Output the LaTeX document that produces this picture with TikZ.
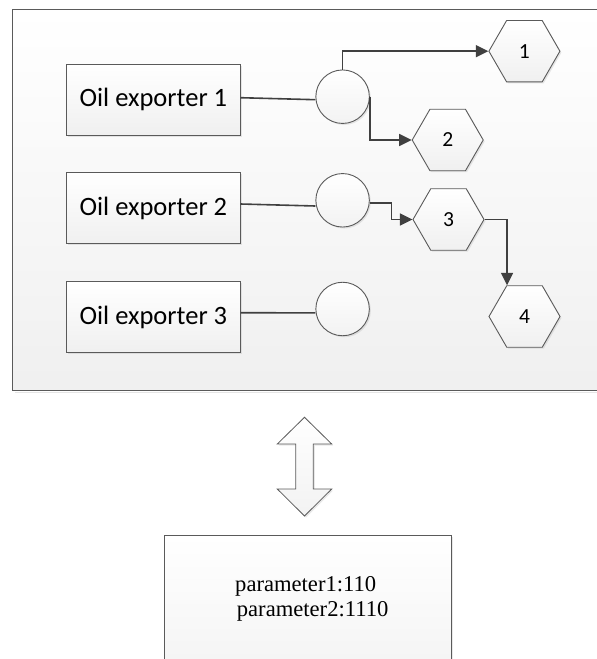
\documentclass[tikz,border=0pt]{standalone}
\usepackage{fontspec}
\setmainfont{Carlito}
\newfontfamily\serifp{Liberation Serif}
\usetikzlibrary{shapes.geometric,arrows.meta,shadows,calc}
\definecolor{edge}{HTML}{5A5A5A}
\definecolor{conn}{HTML}{404040}
\tikzset{
 shd/.style={drop shadow={shadow xshift=1.5pt,shadow yshift=-1.5pt,opacity=0.18}},
 exporter/.style={draw=edge,line width=0.9pt,top color=white,bottom color=gray!12,minimum width=173.3pt,minimum height=71pt,inner sep=0pt,font=\fontsize{26.5}{30}\selectfont,shd},
 hub/.style={circle,draw=edge,line width=0.9pt,top color=white,bottom color=gray!10,minimum size=53.5pt,inner sep=0pt,shd},
 hexa/.style={regular polygon,regular polygon sides=6,minimum size=71pt,inner sep=0pt,draw=edge,line width=0.9pt,top color=white,bottom color=gray!12,font=\fontsize{21.5}{24}\selectfont,shd},
 flow/.style={draw=conn,line width=1.6pt,-{Triangle[length=12.5pt,width=12pt]}},
 link/.style={draw=conn,line width=1.6pt},
 ptxt/.style={inner sep=0pt,anchor=base west,font=\serifp\fontsize{22.6}{24}\selectfont},
}
\begin{document}
\begin{tikzpicture}[x=1pt,y=-1pt]
\useasboundingbox (0,0) rectangle (597,659);
\clip (0,0) rectangle (597,659);
% outer frame
\fill[black,opacity=0.1] (14.6,391.5) rectangle (601,392.5);
\draw[edge,line width=1pt,top color=white,bottom color=gray!12] (12.6,9.3) rectangle (601,390.5);
% exporters
\node[exporter] (b1) at (153.4,99.5) {Oil exporter 1};
\node[exporter] (b2) at (153.4,208) {Oil exporter 2};
\node[exporter] (b3) at (153.4,317) {Oil exporter 3};
% hubs
\node[hub] (c1) at (342.6,96.7) {};
\node[hub] (c2) at (342.6,200.3) {};
\node[hub] (c3) at (342.6,309) {};
% hexagons
\node[hexa] (h1) at (524.4,51.2) {1};
\node[hexa] (h2) at (447.7,140) {2};
\node[hexa] (h3) at (448.5,219.5) {3};
\node[hexa] (h4) at (524.5,316.5) {4};
% connectors
\draw[link] ([yshift=1.8pt]b1.east) -- ([yshift=-3pt]c1.west);
\draw[link] ([yshift=4pt]b2.east) -- ([yshift=-5.7pt]c2.west);
\draw[link] ([yshift=4.3pt]b3.east) -- ([yshift=-3.9pt]c3.west);
\draw[flow] (c1.north) |- (h1.west);
\draw[flow] (c1.east) |- (h2.west);
\draw[flow] ([yshift=-2.4pt]c2.east) -- ++(21.5,0) |- (h3.west);
\draw[flow] (h3.east) -| ([xshift=-17.5pt]h4.north);
% double arrow
\draw[edge,line width=0.8pt,top color=white,bottom color=gray!10,shd]
 (304.5,417.3) -- (331.7,444) -- (313.3,444) -- (313.3,489) -- (331.7,489)
 -- (304.5,516) -- (277.3,489) -- (295.7,489) -- (295.7,444) -- (277.3,444) -- cycle;
% parameter box
\node[draw=edge,line width=0.9pt,top color=white,bottom color=gray!8,shd,minimum width=287pt,minimum height=126.7pt,inner sep=0pt] (pbox) at (307.5,598.65) {};
\node[ptxt] (p1) at (235,591.7) {parameter1:110};
\node[ptxt] (p2) at (236.7,616) {parameter2:1110};
\end{tikzpicture}
\end{document}
